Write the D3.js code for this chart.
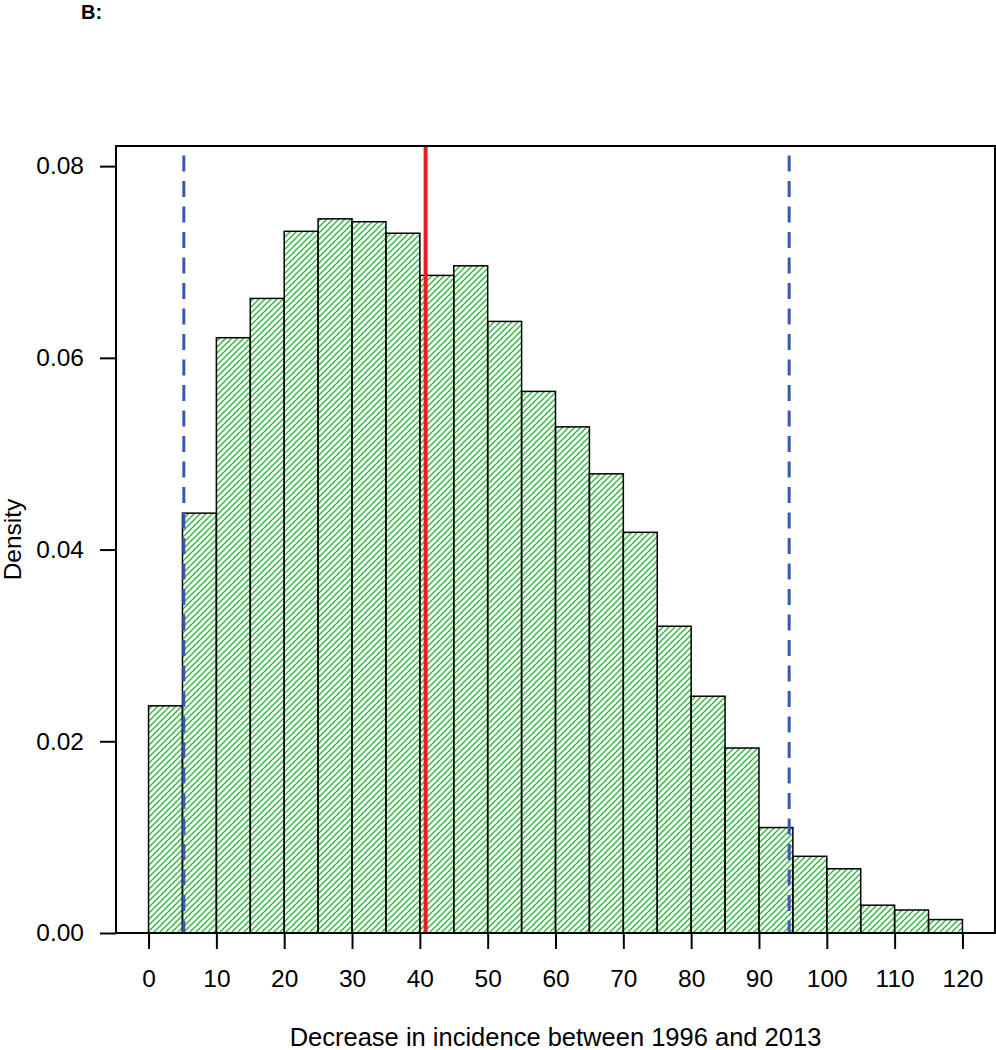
<!DOCTYPE html>
<html>
<head>
<meta charset="utf-8">
<script src="https://cdn.jsdelivr.net/npm/d3@7"></script>
<style>
  body { margin: 0; background: #fff; }
  text { font-family: "Liberation Sans", Arial, sans-serif; fill: #000; }
</style>
</head>
<body>
<script>
// histogram bins (lower edge) and densities
var binStart = [0, 5, 10, 15, 20, 25, 30, 35, 40, 45, 50, 55, 60, 65, 70, 75, 80, 85, 90, 95, 100, 105, 110, 115];
var density = [0.0237, 0.0438, 0.0621, 0.0662, 0.0732, 0.0745, 0.0742, 0.0730, 0.0686, 0.0696, 0.0638, 0.0565,
               0.0528, 0.0479, 0.0418, 0.0320, 0.0247, 0.0193, 0.0110, 0.0080, 0.0067, 0.0029, 0.0024, 0.0014];
var binWidth = 5;
var xTicks = [0, 10, 20, 30, 40, 50, 60, 70, 80, 90, 100, 110, 120];
var yTicks = [0, 0.02, 0.04, 0.06, 0.08];
var ciLines = [5.2, 94.45];   // blue dashed
var medianLine = [40.85];     // red

var W = 996, H = 1050;
var box = {left: 116, right: 995, top: 146, bottom: 933};

var svg = d3.select("body").append("svg")
    .attr("width", W)
    .attr("height", H);

var x = d3.scaleLinear()
    .domain([-4.8, 124.8])
    .range([box.left, box.right]);

var y = d3.scaleLinear()
    .domain([0, 0.0821])
    .range([box.bottom, box.top]);

// hatch fill
var defs = svg.append("defs");
var s = 6;
defs.append("pattern")
    .attr("id", "hatch")
    .attr("patternUnits", "userSpaceOnUse")
    .attr("width", s)
    .attr("height", s)
  .append("path")
    .attr("d", "M0," + s + "L" + s + ",0M-1,1L1,-1M" + (s - 1) + "," + (s + 1) + "L" + (s + 1) + "," + (s - 1))
    .attr("stroke", "#2fb53f")
    .attr("stroke-width", 1.4);

svg.selectAll(".bar")
    .data(density)
    .enter()
    .append("rect")
    .attr("class", "bar")
    .attr("x", function (d, i) { return x(binStart[i]); })
    .attr("width", function (d, i) { return x(binStart[i] + binWidth) - x(binStart[i]); })
    .attr("y", function (d) { return y(d); })
    .attr("height", function (d) { return y(0) - y(d); })
    .attr("fill", "url(#hatch)")
    .attr("stroke", "#000")
    .attr("stroke-width", 1.5);

// vertical reference lines
svg.selectAll(".ci")
    .data(ciLines)
    .enter()
    .append("line")
    .attr("x1", function (d) { return x(d); })
    .attr("x2", function (d) { return x(d); })
    .attr("y1", box.top)
    .attr("y2", box.bottom)
    .attr("stroke", "#3a57b4")
    .attr("stroke-width", 3)
    .attr("stroke-dasharray", "16,9.5")
    .attr("stroke-dashoffset", 16);

svg.selectAll(".med")
    .data(medianLine)
    .enter()
    .append("line")
    .attr("x1", function (d) { return x(d); })
    .attr("x2", function (d) { return x(d); })
    .attr("y1", box.top)
    .attr("y2", box.bottom)
    .attr("stroke", "#ec1c24")
    .attr("stroke-width", 4);

// plot frame
svg.append("rect")
    .attr("x", box.left)
    .attr("y", box.top)
    .attr("width", box.right - box.left)
    .attr("height", box.bottom - box.top)
    .attr("fill", "none")
    .attr("stroke", "#000")
    .attr("stroke-width", 2);

// axes
var xAxis = svg.append("g")
    .attr("transform", "translate(0," + box.bottom + ")")
    .call(d3.axisBottom(x).tickValues(xTicks).tickSize(16).tickPadding(21).tickSizeOuter(0));

var yAxis = svg.append("g")
    .attr("transform", "translate(" + box.left + ",0)")
    .call(d3.axisLeft(y).tickValues(yTicks).tickFormat(d3.format(".2f")).tickSize(16).tickPadding(16).tickSizeOuter(0));

[xAxis, yAxis].forEach(function (g) {
    g.select(".domain").remove();
    g.selectAll(".tick line").attr("stroke", "#000").attr("stroke-width", 2);
    g.selectAll(".tick text")
        .style("font-family", "'Liberation Sans', Arial, sans-serif")
        .style("font-size", "24.5px")
        .attr("fill", "#000");
});

// the x-axis baseline from 0 to 120 (R style)
svg.append("line")
    .attr("x1", x(xTicks[0]))
    .attr("x2", x(xTicks[xTicks.length - 1]))
    .attr("y1", box.bottom)
    .attr("y2", box.bottom)
    .attr("stroke", "#000")
    .attr("stroke-width", 2);

// titles
svg.append("text")
    .attr("x", (box.left + box.right) / 2)
    .attr("y", 1046)
    .attr("text-anchor", "middle")
    .style("font-size", "25.5px")
    .text("Decrease in incidence between 1996 and 2013");

svg.append("text")
    .attr("transform", "translate(21," + ((box.top + box.bottom) / 2) + ") rotate(-90)")
    .attr("text-anchor", "middle")
    .style("font-size", "24.5px")
    .text("Density");

svg.append("text")
    .attr("x", 81)
    .attr("y", 19)
    .style("font-size", "20px")
    .style("font-weight", "bold")
    .text("B:");
</script>
</body>
</html>
